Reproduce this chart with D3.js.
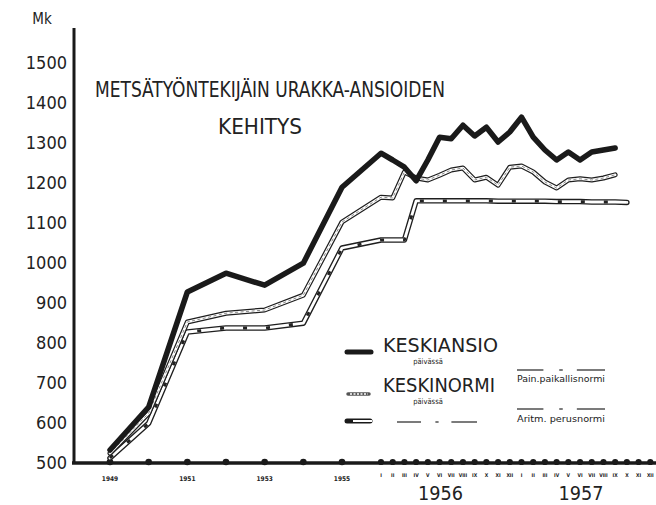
<!DOCTYPE html>
<html>
<head>
<meta charset="utf-8">
<script src="https://cdn.jsdelivr.net/npm/d3@7"></script>
<style>
  body { margin: 0; background: #fff; }
  text { fill: #222; font-family: "DejaVu Sans Condensed", "DejaVu Sans", sans-serif; }
</style>
</head>
<body>
<div id="chart"></div>
<script>
//CONSTANTS AND GLOBALS
const width = 656,
  height = 505;

// DATA
const years = [1949, 1950, 1951, 1952, 1953, 1954, 1955];
const yearLabels = [1949, 1951, 1953, 1955];
const ansioYears = [530, 637, 925, 972, 942, 997, 1187];
const normiYears = [522, 622, 850, 872, 880, 917, 1100];
const perusYears = [510, 597, 825, 835, 835, 847, 1035];

const months = ["I", "II", "III", "IV", "V", "VI", "VII", "VIII", "IX", "X", "XI", "XII"];
const monthYears = [1956, 1957];
// monthly values from 1956 I onwards
const ansioMonths = [1272, 1255, 1237, 1203, 1255, 1312, 1308, 1342, 1315, 1337, 1300, 1325, 1362, 1312, 1280, 1255, 1275, 1255, 1275, 1280, 1285];
const normiMonths = [1162, 1160, 1225, 1210, 1205, 1217, 1230, 1235, 1205, 1212, 1192, 1237, 1240, 1225, 1200, 1185, 1205, 1208, 1205, 1210, 1218];
const perusMonths = [1055, 1055, 1055, 1153, 1153, 1153, 1153, 1153, 1153, 1153, 1152, 1152, 1152, 1152, 1152, 1151, 1151, 1151, 1150, 1150, 1150, 1149];

const yTicks = d3.range(500, 1600, 100);

// build series: annual points at the year, monthly points at year + m/12
function series(annual, monthly) {
  return years.map((yr, i) => ({ t: yr, v: annual[i] }))
    .concat(monthly.map((v, i) => ({ t: 1956 + i / 12, v: v })));
}
const ansio = series(ansioYears, ansioMonths);
const normi = series(normiYears, normiMonths);
const perus = series(perusYears, perusMonths);

// SCALES (annual part is wider-spaced than the monthly part)
const xScale = d3.scaleLinear()
  .domain([1949, 1955, 1956, 1958])
  .range([110, 342, 381, 662]);

const yScale = d3.scaleLinear()
  .domain([500, 1500])
  .range([462, 62]);

const svg = d3.select("#chart").append("svg")
  .attr("width", width)
  .attr("height", height);

// y axis labels
const yAxis = d3.axisLeft(yScale)
  .tickValues(yTicks)
  .tickFormat(d3.format("d"))
  .tickSize(0).tickPadding(0);
svg.append("g")
  .attr("transform", "translate(67,0)")
  .call(yAxis)
  .call(g => g.select(".domain").remove())
  .selectAll("text")
  .attr("font-size", 18)
  .attr("dy", "0.35em")
  .style("font-family", "'DejaVu Sans Condensed', 'DejaVu Sans', sans-serif")
  .style("font-weight", 300)
  .attr("fill", "#333");

svg.append("text")
  .attr("x", 42).attr("y", 24)
  .attr("text-anchor", "middle")
  .attr("font-size", 15)
  .text("Mk");

// axis lines
svg.append("line")
  .attr("x1", 74).attr("x2", 74)
  .attr("y1", 28).attr("y2", 464)
  .attr("stroke", "#1a1a1a").attr("stroke-width", 3);
svg.append("line")
  .attr("x1", 72).attr("x2", width)
  .attr("y1", 463).attr("y2", 463)
  .attr("stroke", "#1a1a1a").attr("stroke-width", 3.5);

// x axis dots
const monthTicks = d3.range(24).map(i => ({ t: 1956 + i / 12, label: months[i % 12] }));
svg.selectAll(".ydot")
  .data(years)
  .join("circle")
  .attr("class", "ydot")
  .attr("cx", d => xScale(d)).attr("cy", 462)
  .attr("r", 3.3).attr("fill", "#1a1a1a");
svg.selectAll(".mdot")
  .data(monthTicks)
  .join("circle")
  .attr("class", "mdot")
  .attr("cx", d => xScale(d.t)).attr("cy", 462)
  .attr("r", 3.1).attr("fill", "#1a1a1a");

svg.selectAll(".ylab")
  .data(yearLabels)
  .join("text")
  .attr("class", "ylab")
  .attr("x", d => xScale(d)).attr("y", 481)
  .attr("text-anchor", "middle")
  .attr("font-size", 6.5)
  .attr("font-weight", "bold")
  .text(d => d);

svg.selectAll(".mlab")
  .data(monthTicks)
  .join("text")
  .attr("class", "mlab")
  .attr("x", d => xScale(d.t)).attr("y", 477)
  .attr("text-anchor", "middle")
  .attr("font-size", 5)
  .attr("font-weight", "bold")
  .style("fill", "#222")
  .text(d => d.label);

svg.selectAll(".bigyear")
  .data(monthYears)
  .join("text")
  .attr("class", "bigyear")
  .attr("x", d => xScale(d + 5 / 12) + 1).attr("y", 500)
  .attr("text-anchor", "middle")
  .attr("font-size", 19)
  .attr("textLength", 45)
  .attr("lengthAdjust", "spacingAndGlyphs")
  .text(d => d);

// title
svg.append("text")
  .attr("x", 95).attr("y", 97)
  .attr("font-size", 22)
  .attr("font-weight", 200)
  .attr("textLength", 350)
  .attr("lengthAdjust", "spacingAndGlyphs")
  .text("METSÄTYÖNTEKIJÄIN URAKKA-ANSIOIDEN");
svg.append("text")
  .attr("x", 218).attr("y", 134)
  .attr("font-size", 21)
  .attr("font-weight", 200)
  .attr("textLength", 84)
  .attr("lengthAdjust", "spacingAndGlyphs")
  .text("KEHITYS");

// LINES
const line = d3.line().x(d => xScale(d.t)).y(d => yScale(d.v));

function hollow(data, outer, inner, pattern) {
  const g = svg.append("g").attr("fill", "none")
    .attr("stroke-linejoin", "round").attr("stroke-linecap", "round");
  g.append("path").datum(data).attr("d", line)
    .attr("stroke", "#1e1e1e").attr("stroke-width", outer);
  g.append("path").datum(data).attr("d", line)
    .attr("stroke", "#fff").attr("stroke-width", inner);
  if (pattern) {
    g.append("path").datum(data).attr("d", line)
      .attr("stroke", pattern.color).attr("stroke-width", pattern.width)
      .attr("stroke-linecap", "butt")
      .attr("stroke-dasharray", pattern.dash);
  }
}

hollow(perus, 5.5, 2.8, { color: "#222", width: 2.8, dash: "4,19" });
hollow(normi, 5, 2.6, { color: "#888", width: 1, dash: "3,2.5" });

svg.append("path").datum(ansio)
  .attr("d", line)
  .attr("fill", "none")
  .attr("stroke", "#1a1a1a")
  .attr("stroke-width", 5.5)
  .attr("stroke-linejoin", "round")
  .attr("stroke-linecap", "round");

// LEGEND
const leg = svg.append("g");
leg.append("line")
  .attr("x1", 347).attr("x2", 371).attr("y1", 352).attr("y2", 352)
  .attr("stroke", "#1a1a1a").attr("stroke-width", 5).attr("stroke-linecap", "round");
leg.append("line")
  .attr("x1", 348).attr("x2", 369).attr("y1", 394).attr("y2", 394)
  .attr("stroke", "#555").attr("stroke-width", 3.5).attr("stroke-linecap", "round");
leg.append("line")
  .attr("x1", 350).attr("x2", 368).attr("y1", 394).attr("y2", 394)
  .attr("stroke", "#fff").attr("stroke-width", 1.5).attr("stroke-dasharray", "2,1.5");
leg.append("line")
  .attr("x1", 347).attr("x2", 370).attr("y1", 421).attr("y2", 421)
  .attr("stroke", "#1a1a1a").attr("stroke-width", 5).attr("stroke-linecap", "round");
leg.append("line")
  .attr("x1", 353).attr("x2", 372).attr("y1", 421).attr("y2", 421)
  .attr("stroke", "#fff").attr("stroke-width", 2);

const legLabels = [
  { text: "KESKIANSIO", y: 352, len: 115 },
  { text: "KESKINORMI", y: 392, len: 112 }
];
leg.selectAll(".lt")
  .data(legLabels)
  .join("text")
  .attr("class", "lt")
  .attr("x", 383).attr("y", d => d.y)
  .attr("font-size", 19)
  .attr("font-weight", 300)
  .attr("textLength", d => d.len)
  .attr("lengthAdjust", "spacingAndGlyphs")
  .text(d => d.text);
leg.selectAll(".ls")
  .data(legLabels)
  .join("text")
  .attr("class", "ls")
  .attr("x", 428).attr("y", d => d.y + 12)
  .attr("text-anchor", "middle")
  .attr("font-size", 7.5)
  .text("päivässä");

// dash-dot-dash lines in the legend
const dashRows = [
  { x0: 397, y: 422, w: 80 },
  { x0: 517, y: 370, w: 88 },
  { x0: 517, y: 409, w: 88 }
];
dashRows.forEach(r => {
  [[0, 0.3], [0.48, 0.52], [0.68, 1]].forEach(p => {
    leg.append("line")
      .attr("x1", r.x0 + r.w * p[0]).attr("x2", r.x0 + r.w * p[1])
      .attr("y1", r.y).attr("y2", r.y)
      .attr("stroke", "#333").attr("stroke-width", 1.3);
  });
});

const noteLabels = [
  { text: "Pain.paikallisnormi", y: 382 },
  { text: "Aritm. perusnormi", y: 422 }
];
leg.selectAll(".nl")
  .data(noteLabels)
  .join("text")
  .attr("class", "nl")
  .attr("x", 517).attr("y", d => d.y)
  .attr("font-size", 9)
  .attr("textLength", 88)
  .attr("lengthAdjust", "spacingAndGlyphs")
  .text(d => d.text);
</script>
</body>
</html>
